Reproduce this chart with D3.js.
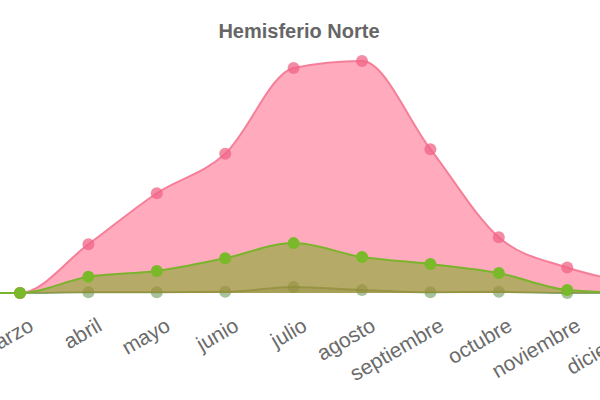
<!DOCTYPE html>
<meta charset="utf-8">
<style>
    body {
        margin: 0;
        background: #fff;
        font-family: "Liberation Sans", Arial, sans-serif;
    }
</style>
<svg width="600" height="400"></svg>
<script src="https://d3js.org/d3.v7.min.js"></script>
<script>
    // meses (el gráfico está recortado: enero/febrero a la izquierda, diciembre a la derecha)
    var months = ["enero", "febrero", "marzo", "abril", "mayo", "junio", "julio",
        "agosto", "septiembre", "octubre", "noviembre", "diciembre"];

    // valores (escala 0-100)
    var pinkValues = [0, 0, 0, 21, 43, 60, 97, 100, 62, 24, 11, 4];
    var greenValues = [0, 0, 0, 7, 9.5, 15, 21.5, 15.5, 12.5, 8.6, 1.3, 0];
    var darkValues = [0, 0, 0, 0.3, 0.3, 0.5, 2.6, 1.3, 0.3, 0.5, 0, 0];

    var svg = d3.select("svg"),
        width = +svg.attr("width"),
        height = +svg.attr("height");

    var step = 68.4,
        firstVisible = 20; // posición de marzo

    var x = d3.scalePoint()
        .domain(months)
        .range([firstVisible - 2 * step, firstVisible + 9 * step]);

    var y = d3.scaleLinear()
        .domain([0, 100])
        .range([293, 61]);

    svg.append("text")
        .attr("x", 299)
        .attr("y", 38)
        .attr("text-anchor", "middle")
        .style("font-size", "20px")
        .style("font-weight", "bold")
        .style("fill", "#666")
        .text("Hemisferio Norte");

    var series = [
        {values: darkValues, line: "rgba(80,135,55,0.7)", fill: "rgba(80,135,55,0.35)", point: "rgba(80,135,55,0.5)"},
        {values: pinkValues, line: "#f57f98", fill: "rgba(255,92,128,0.52)", point: "rgba(240,100,135,0.75)"},
        {values: greenValues, line: "#7ab42c", fill: "rgba(110,170,20,0.5)", point: "#7ab92a"}
    ];

    var area = d3.area()
        .x(function (d, i) { return x(months[i]); })
        .y0(y(0))
        .y1(function (d) { return y(d); })
        .curve(d3.curveMonotoneX);

    var line = d3.line()
        .x(function (d, i) { return x(months[i]); })
        .y(function (d) { return y(d); })
        .curve(d3.curveMonotoneX);

    series.forEach(function (s) {
        var g = svg.append("g");
        g.append("path")
            .attr("d", area(s.values))
            .style("fill", s.fill);
        g.append("path")
            .attr("d", line(s.values))
            .style("fill", "none")
            .style("stroke", s.line)
            .style("stroke-width", 2);
        g.selectAll("circle")
            .data(s.values)
            .enter().append("circle")
            .attr("cx", function (d, i) { return x(months[i]); })
            .attr("cy", function (d) { return y(d); })
            .attr("r", 6)
            .style("fill", s.point);
    });

    svg.append("g")
        .selectAll("text")
        .data(months)
        .enter().append("text")
        .attr("transform", function (d) {
            return "translate(" + (x(d) + 7) + ",316) rotate(-30)";
        })
        .attr("text-anchor", "end")
        .attr("dy", "0.75em")
        .style("font-size", "21px")
        .style("fill", "#6b6b6b")
        .text(function (d) { return d; });
</script>
